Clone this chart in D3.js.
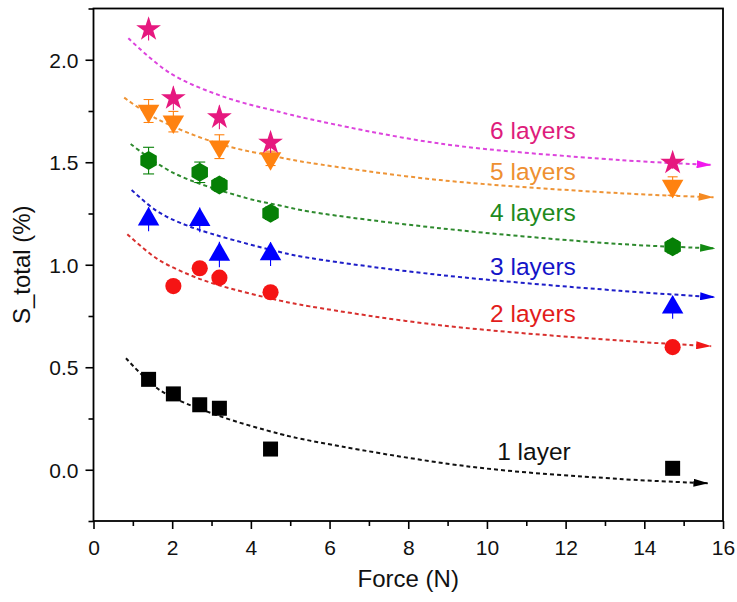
<!DOCTYPE html>
<html>
<head>
<meta charset="utf-8">
<script src="https://cdn.jsdelivr.net/npm/d3@7"></script>
<style>
  html, body { margin: 0; padding: 0; background: #fff; }
  svg { display: block; font-family: "Liberation Sans", Arial, sans-serif; }
</style>
</head>
<body>
<svg id="chart" width="737" height="602"></svg>
<script>
// ---- measured points (Force in N, S_total in %) ----
const layerNames = ["1 layer", "2 layers", "3 layers", "4 layers", "5 layers", "6 layers"];

const force1 = [1.4, 2.03, 2.7, 3.2, 4.5, 14.72];
const sTotal1 = [0.441, 0.370, 0.317, 0.300, 0.101, 0.007];
const err1 = [0.02, 0.02, 0.02, 0.02, 0.02, 0.02];

const force2 = [2.03, 2.7, 3.2, 4.5, 14.72];
const sTotal2 = [0.896, 0.983, 0.937, 0.866, 0.598];
const err2 = [0.02, 0.02, 0.02, 0.02, 0.02];

const force3 = [1.4, 2.7, 3.2, 4.5, 14.72];
const sTotal3 = [1.222, 1.219, 1.050, 1.052, 0.792];
const err3 = [0.058, 0.06, 0.062, 0.058, 0.055];

const force4 = [1.4, 2.7, 3.2, 4.5, 14.72];
const sTotal4 = [1.508, 1.451, 1.389, 1.251, 1.088];
const err4 = [0.065, 0.05, 0.03, 0.03, 0.03];

const force5 = [1.4, 2.03, 3.2, 4.5, 14.72];
const sTotal5 = [1.750, 1.698, 1.576, 1.519, 1.384];
const err5 = [0.056, 0.05, 0.058, 0.035, 0.045];

const force6 = [1.4, 2.03, 3.2, 4.5, 14.72];
const sTotal6 = [2.149, 1.812, 1.719, 1.595, 1.498];
const err6 = [0.055, 0.058, 0.058, 0.05, 0.03];

// ---- fitted trend lines, sampled along each curve [force, S_total] ----
const fit1 = [[0.826, 0.544], [1.69, 0.388], [3.13, 0.267], [4.74, 0.175], [5.50, 0.142], [9.57, 0.015], [13.38, -0.045], [15.63, -0.066]];
const fit2 = [[0.86, 1.149], [1.61, 1.030], [2.45, 0.950], [3.19, 0.900], [4.74, 0.825], [5.50, 0.797], [8.81, 0.705], [13.38, 0.630], [15.70, 0.603]];
const fit3 = [[0.97, 1.365], [1.61, 1.262], [2.45, 1.186], [4.74, 1.062], [5.50, 1.033], [8.81, 0.950], [13.38, 0.873], [15.80, 0.842]];
const fit4 = [[0.945, 1.589], [2.03, 1.448], [3.89, 1.325], [4.74, 1.289], [5.50, 1.259], [8.81, 1.178], [13.38, 1.101], [15.80, 1.080]];
const fit5 = [[0.78, 1.815], [1.61, 1.712], [3.19, 1.590], [4.75, 1.523], [5.50, 1.497], [8.81, 1.413], [13.38, 1.349], [15.76, 1.329]];
const fit6 = [[0.885, 2.105], [1.945, 1.935], [3.30, 1.820], [4.74, 1.745], [5.46, 1.712], [8.81, 1.591], [13.38, 1.511], [15.71, 1.487]];

// where each series name sits (force, S_total of the text baseline)
const labelForce = [10.26, 10.08, 10.08, 10.08, 10.08, 10.08];
const labelS = [0.048, 0.723, 0.951, 1.211, 1.411, 1.611];

// axis ticks
const xMajor = [0, 2, 4, 6, 8, 10, 12, 14, 16];
const xMinor = [1, 3, 5, 7, 9, 11, 13, 15];
const yMajor = [0.0, 0.5, 1.0, 1.5, 2.0];
const yMinor = [-0.25, 0.25, 0.75, 1.25, 1.75, 2.25];

// ---- styling ----
const hexagon = {
  draw(ctx, size) {
    const r = Math.sqrt(size / (1.5 * Math.sqrt(3)));
    for (let i = 0; i < 6; i++) {
      const a = Math.PI / 3 * i - Math.PI / 2;
      const px = r * Math.cos(a), py = r * Math.sin(a);
      if (i === 0) ctx.moveTo(px, py); else ctx.lineTo(px, py);
    }
    ctx.closePath();
  }
};

const series = [
  { force: force1, s: sTotal1, err: err1, fit: fit1, symbol: d3.symbolSquare, size: 225, rot: 0, cap: 0,
    fill: "#000000", line: "#111111", arrow: "#000000", text: "#111111" },
  { force: force2, s: sTotal2, err: err2, fit: fit2, symbol: d3.symbolCircle, size: 205, rot: 0, cap: 0,
    fill: "#F51414", line: "#D8302E", arrow: "#F01818", text: "#E21C1C" },
  { force: force3, s: sTotal3, err: err3, fit: fit3, symbol: d3.symbolTriangle, size: 200, rot: 0, cap: 0,
    fill: "#0000FF", line: "#1E1EC8", arrow: "#0000F0", text: "#1414C8" },
  { force: force4, s: sTotal4, err: err4, fit: fit4, symbol: hexagon, size: 235, rot: 0, cap: 11,
    fill: "#068006", line: "#2E8A2E", arrow: "#128A12", text: "#1E8A1E" },
  { force: force5, s: sTotal5, err: err5, fit: fit5, symbol: d3.symbolTriangle, size: 200, rot: 180, cap: 10,
    fill: "#FF8210", line: "#EE9436", arrow: "#F58A22", text: "#EE9032" },
  { force: force6, s: sTotal6, err: err6, fit: fit6, symbol: d3.symbolStar, size: 190, rot: 0, cap: 0,
    fill: "#E6187F", line: "#DD44DD", arrow: "#F218EE", text: "#DE1C7C" }
];

const svg = d3.select("#chart");
const plotLeft = 93.5, plotRight = 723, plotTop = 8.5, plotBottom = 521;

const x = d3.scaleLinear().domain([0, 16]).range([plotLeft, plotRight]);
const y = d3.scaleLinear().domain([-0.25, 2.25]).range([plotBottom, plotTop]);

// arrowheads for the trend lines
const defs = svg.append("defs");
series.forEach((d, i) => {
  defs.append("marker")
    .attr("id", "arrow" + i)
    .attr("viewBox", "0 0 15 8")
    .attr("refX", 15).attr("refY", 4)
    .attr("markerWidth", 15).attr("markerHeight", 8)
    .attr("markerUnits", "userSpaceOnUse")
    .attr("orient", "auto")
    .append("path")
    .attr("d", "M0,0L15,4L0,8Z")
    .attr("fill", d.arrow)
    .attr("stroke", "none");
});

// ---- axes ----
const axisG = svg.append("g");
const xAxis = axisG.append("g").attr("transform", `translate(0,${plotBottom})`)
  .call(d3.axisBottom(x).tickValues(xMajor).tickSize(8).tickPadding(10).tickFormat(d3.format("d")));
axisG.append("g").attr("transform", `translate(0,${plotBottom})`)
  .call(d3.axisBottom(x).tickValues(xMinor).tickSize(5).tickFormat(""));
const yAxis = axisG.append("g").attr("transform", `translate(${plotLeft},0)`)
  .call(d3.axisLeft(y).tickValues(yMajor).tickSize(8).tickPadding(7).tickFormat(d3.format(".1f")));
axisG.append("g").attr("transform", `translate(${plotLeft},0)`)
  .call(d3.axisLeft(y).tickValues(yMinor).tickSize(5).tickFormat(""));

axisG.selectAll(".domain").remove();
axisG.selectAll(".tick line").attr("stroke", "#000").attr("stroke-width", 1.6);
axisG.selectAll(".tick text")
  .attr("fill", "#111")
  .style("font-size", "21px")
  .style("font-family", "'Liberation Sans', Arial, sans-serif");
xAxis.selectAll(".tick text").attr("dy", "0.78em");
yAxis.selectAll(".tick text").attr("dy", "0.36em");

// frame
svg.append("rect")
  .attr("x", plotLeft).attr("y", plotTop)
  .attr("width", plotRight - plotLeft).attr("height", plotBottom - plotTop)
  .attr("fill", "none").attr("stroke", "#000").attr("stroke-width", 1.8);

// axis titles
svg.append("text")
  .attr("x", (plotLeft + plotRight) / 2).attr("y", 587)
  .attr("text-anchor", "middle")
  .style("font-size", "24px").attr("fill", "#111")
  .text("Force (N)");
svg.append("text")
  .attr("transform", `translate(30,${(plotTop + plotBottom) / 2}) rotate(-90)`)
  .attr("text-anchor", "middle")
  .style("font-size", "24px").attr("fill", "#111")
  .text("S_total (%)");

// ---- trend lines ----
const line = d3.line().x(d => x(d[0])).y(d => y(d[1])).curve(d3.curveCatmullRom.alpha(0.5));
const fitsG = svg.append("g");
series.forEach((d, i) => {
  fitsG.append("path")
    .attr("d", line(d.fit))
    .attr("fill", "none")
    .attr("stroke", d.line)
    .attr("stroke-width", 2)
    .attr("stroke-dasharray", "4,3")
    .attr("marker-end", `url(#arrow${i})`);
});

// ---- error bars and markers ----
const pointsG = svg.append("g");
series.forEach(d => {
  const pts = d.force.map((f, k) => ({ f, s: d.s[k], e: d.err[k] }));
  const g = pointsG.append("g");
  const eb = g.selectAll(".eb").data(pts).join("g").attr("class", "eb")
    .attr("stroke", d.fill).attr("stroke-width", 1.1);
  eb.append("line")
    .attr("x1", p => x(p.f)).attr("x2", p => x(p.f))
    .attr("y1", p => y(p.s - p.e)).attr("y2", p => y(p.s + p.e));
  if (d.cap > 0) {
    eb.append("line")
      .attr("x1", p => x(p.f) - d.cap / 2).attr("x2", p => x(p.f) + d.cap / 2)
      .attr("y1", p => y(p.s + p.e)).attr("y2", p => y(p.s + p.e));
    eb.append("line")
      .attr("x1", p => x(p.f) - d.cap / 2).attr("x2", p => x(p.f) + d.cap / 2)
      .attr("y1", p => y(p.s - p.e)).attr("y2", p => y(p.s - p.e));
  }
  g.selectAll(".mk").data(pts).join("path").attr("class", "mk")
    .attr("d", d3.symbol().type(d.symbol).size(d.size))
    .attr("transform", p => `translate(${x(p.f)},${y(p.s)}) rotate(${d.rot})`)
    .attr("fill", d.fill);
});

// ---- series names ----
svg.append("g").selectAll("text")
  .data(layerNames)
  .join("text")
  .attr("x", (n, i) => x(labelForce[i]))
  .attr("y", (n, i) => y(labelS[i]))
  .attr("fill", (n, i) => series[i].text)
  .style("font-size", "24.5px")
  .text(n => n);
</script>
</body>
</html>
